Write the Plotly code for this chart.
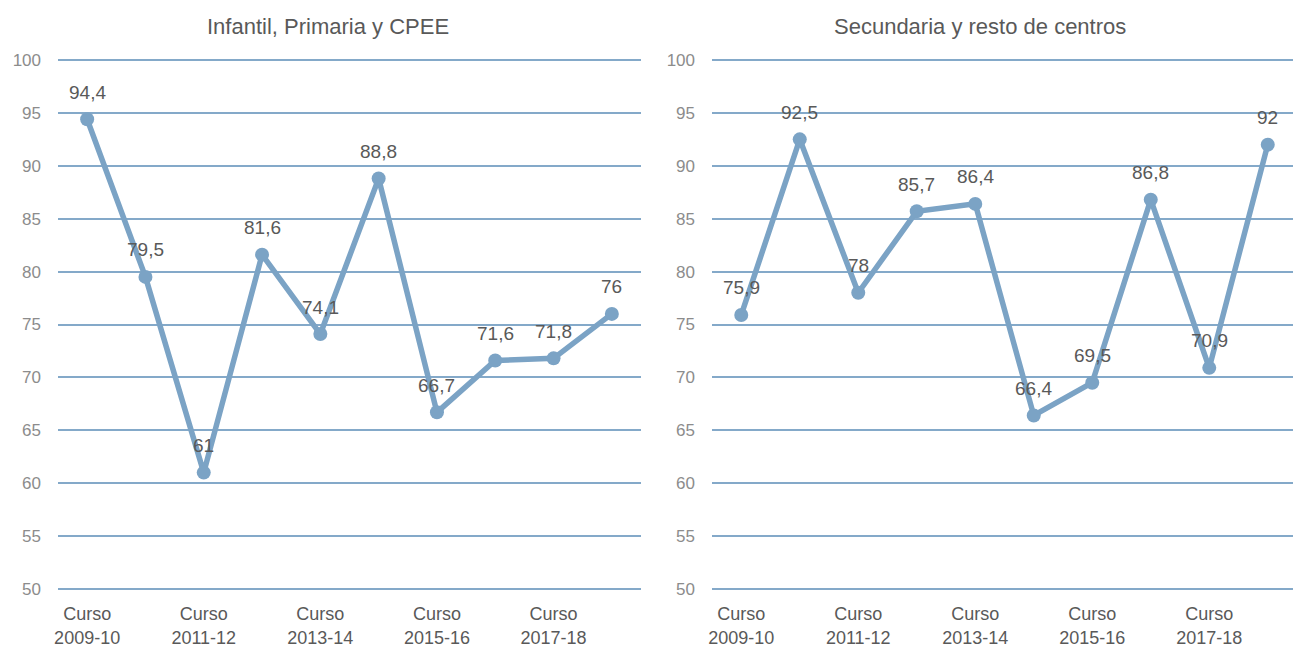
import plotly.graph_objects as go

categories = ["Curso 2009-10", "Curso 2010-11", "Curso 2011-12", "Curso 2012-13", "Curso 2013-14",
              "Curso 2014-15", "Curso 2015-16", "Curso 2016-17", "Curso 2017-18", "Curso 2018-19"]
tick_cats = ["Curso 2009-10", "Curso 2011-12", "Curso 2013-14", "Curso 2015-16", "Curso 2017-18"]
tick_text = ["Curso<br>2009-10", "Curso<br>2011-12", "Curso<br>2013-14", "Curso<br>2015-16", "Curso<br>2017-18"]

infantil = [94.4, 79.5, 61, 81.6, 74.1, 88.8, 66.7, 71.6, 71.8, 76]
secundaria = [75.9, 92.5, 78, 85.7, 86.4, 66.4, 69.5, 86.8, 70.9, 92]

titles = ["Infantil, Primaria y CPEE", "Secundaria y resto de centros"]
y_ticks = [50, 55, 60, 65, 70, 75, 80, 85, 90, 95, 100]

line_color = "#7BA3C5"
grid_color = "#84A9C9"
text_color = "#595959"
tick_color = "#8C8C8C"
font_family = "Liberation Sans, Arial, sans-serif"

# The page places the figure 8px from the top-left corner (body margin)
W, H = 1293, 642
OFF = 8
PAD = 0.2  # small range padding so the 50 and 100 gridlines are drawn
PX_PER_UNIT = (589 - 60) / 50.0


def fmt(v):
    s = ("%g" % v)
    return s.replace(".", ",")


fig = go.Figure()

for i, vals in enumerate([infantil, secundaria]):
    xa = "x" if i == 0 else "x2"
    ya = "y" if i == 0 else "y2"
    fig.add_trace(go.Scatter(
        x=categories, y=vals, xaxis=xa, yaxis=ya,
        mode="lines+markers",
        line=dict(color=line_color, width=5.5),
        marker=dict(color=line_color, size=14),
        cliponaxis=False,
        showlegend=False,
        hoverinfo="x+y",
    ))
    for c, v in zip(categories, vals):
        fig.add_annotation(
            x=c, y=v, xref=xa, yref=ya, text=fmt(v), showarrow=False,
            yshift=27, xanchor="center", yanchor="middle",
            font=dict(family=font_family, size=19, color=text_color),
        )

x_domains = [[(58 - OFF) / W, (641 - OFF) / W], [(712 - OFF) / W, (1297 - OFF) / W]]
top_px = 60 - PAD * PX_PER_UNIT
bot_px = 589 + PAD * PX_PER_UNIT
y_domain = [1 - (bot_px - OFF) / H, 1 - (top_px - OFF) / H]

for i in range(2):
    suffix = "" if i == 0 else "2"
    fig.update_layout(**{
        "xaxis" + suffix: dict(
            domain=x_domains[i], type="category", range=[-0.5, 9.5],
            tickmode="array", tickvals=tick_cats, ticktext=tick_text,
            showgrid=False, zeroline=False, showline=False, ticks="",
            ticklabelstandoff=10, automargin=False,
            tickfont=dict(family=font_family, size=18, color=text_color),
            anchor="y" + suffix,
        ),
        "yaxis" + suffix: dict(
            domain=y_domain, range=[50 - PAD, 100 + PAD], tickmode="array", tickvals=y_ticks,
            showgrid=True, gridcolor=grid_color, gridwidth=2, zeroline=False, showline=False,
            ticks="", ticklabelstandoff=16, automargin=False,
            tickfont=dict(family=font_family, size=17, color=tick_color),
            anchor="x" + suffix,
        ),
    })

title_x = [(328 - OFF) / W, (980 - OFF) / W]
for i in range(2):
    fig.add_annotation(
        text=titles[i], x=title_x[i], y=1 - (27 - OFF) / H, xref="paper", yref="paper",
        showarrow=False, xanchor="center", yanchor="middle",
        font=dict(family=font_family, size=22, color=text_color),
    )

fig.update_layout(
    width=W, height=H,
    margin=dict(l=0, r=0, t=0, b=0, autoexpand=False),
    paper_bgcolor="white", plot_bgcolor="white",
    font=dict(family=font_family),
)

fig.write_html("out.html")
